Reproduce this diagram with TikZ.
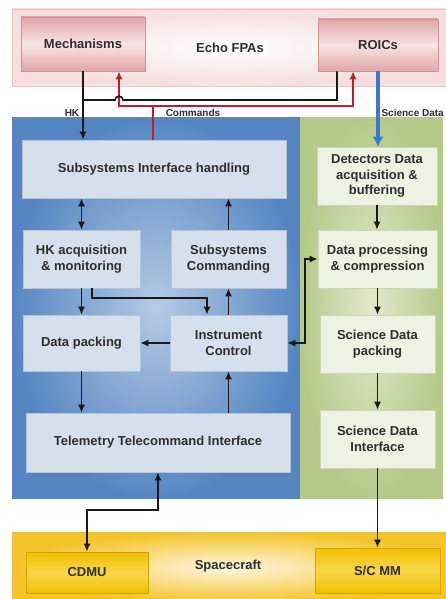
\documentclass[tikz,border=0pt]{standalone}
\usepackage{fontspec}
\setmainfont{Liberation Sans}
\usetikzlibrary{arrows.meta}
\definecolor{txtc}{HTML}{2E2E2E}
\definecolor{pinkdark}{HTML}{E2A6A8}
\definecolor{pinklight}{HTML}{F8E4E4}
\definecolor{pinkline}{HTML}{CC9498}
\definecolor{bandpink}{HTML}{F6DEDE}
\definecolor{bandline}{HTML}{E6C4C4}
\definecolor{blueout}{HTML}{5686C2}
\definecolor{bluein}{HTML}{B6CAE4}
\definecolor{bluebox}{HTML}{D6E0ED}
\definecolor{blueline}{HTML}{B4C3D8}
\definecolor{greenout}{HTML}{B4C98A}
\definecolor{greenin}{HTML}{E2EACC}
\definecolor{greenbox}{HTML}{EEF2E2}
\definecolor{greenline}{HTML}{CDD6B8}
\definecolor{yelout}{HTML}{F5C42A}
\definecolor{yelin}{HTML}{FDF6E0}
\definecolor{goldbox}{HTML}{F1C000}
\definecolor{goldlight}{HTML}{F8D64A}
\definecolor{goldline}{HTML}{D4A400}
\definecolor{cmdred}{HTML}{C41A2C}
\definecolor{sciblue}{HTML}{3B7ACB}
\tikzset{
  txt/.style={font=\bfseries\fontsize{13}{15.5}\selectfont, text=txtc, align=center},
  lbl/.style={font=\bfseries\fontsize{10}{12}\selectfont, text=txtc},
  bx/.style={rectangle, inner sep=0pt, line width=0.6pt, txt},
  pinkbox/.style={bx, draw=pinkline, top color=pinkdark, bottom color=pinkdark, middle color=pinklight},
  bluebx/.style={bx, draw=blueline, fill=bluebox},
  greenbx/.style={bx, draw=greenline, fill=greenbox},
  goldbx/.style={bx, draw=goldline, top color=goldbox, bottom color=goldbox, middle color=goldlight},
  arr/.style={-{Latex[length=8pt,width=7pt]}, line width=1.6pt, draw=black!90},
  arrboth/.style={{Latex[length=8pt,width=7pt]}-{Latex[length=8pt,width=7pt]}, line width=1.6pt, draw=black!90},
  plain/.style={line width=1.6pt, draw=black!90},
  redarr/.style={-{Latex[length=8pt,width=7pt]}, line width=1.6pt, draw=cmdred},
  bluearr/.style={-{Latex[length=10pt,width=11pt]}, line width=4pt, draw=sciblue},
}
\begin{document}
\begin{tikzpicture}[x=1pt,y=-1pt]
\useasboundingbox (0,0) rectangle (446,599);
\fill[white] (0,0) rectangle (446,599);

% bands and panels
\shade[inner color=white, outer color=bandpink, draw=bandline, line width=0.6pt] (12,9) rectangle (450,86);
\shade[inner color=bluein, outer color=blueout] (12,118) rectangle (300,498);
\shade[inner color=greenin, outer color=greenout] (300,118) rectangle (443,498);
\shade[inner color=yelin, outer color=yelout, draw=goldline!70, line width=0.6pt] (12,532) rectangle (450,603);

% top
\node[pinkbox, minimum width=124pt, minimum height=54pt] (mech) at (83,44) {Mechanisms};
\node[pinkbox, minimum width=120pt, minimum height=52pt] (roic) at (378,45) {ROICs};
\node[txt] (echo) at (230,48) {Echo FPAs};

% left panel
\node[bluebx, minimum width=264pt, minimum height=58pt] (sih) at (154,169) {Subsystems Interface handling};
\node[bluebx, minimum width=117pt, minimum height=58pt] (hka) at (81.5,259) {HK acquisition\\\& monitoring};
\node[bluebx, minimum width=115pt, minimum height=58pt] (ssc) at (228.5,259) {Subsystems\\Commanding};
\node[bluebx, minimum width=117pt, minimum height=56pt] (dpk) at (81.5,343) {Data packing};
\node[bluebx, minimum width=117pt, minimum height=56pt] (ic) at (228.5,343) {Instrument\\Control};
\node[bluebx, minimum width=264pt, minimum height=59pt] (tti) at (158,442.5) {Telemetry Telecommand Interface};

% right panel
\node[greenbx, minimum width=120pt, minimum height=58pt] (dda) at (377,176) {Detectors Data\\acquisition \&\\buffering};
\node[greenbx, minimum width=119pt, minimum height=58pt] (dpc) at (377.5,259) {Data processing\\\& compression};
\node[greenbx, minimum width=115pt, minimum height=58pt] (sdp) at (377.5,344) {Science Data\\packing};
\node[greenbx, minimum width=115pt, minimum height=58pt] (sdi) at (377.5,439) {Science Data\\Interface};

% spacecraft
\node[goldbx, minimum width=122pt, minimum height=41pt] (cdmu) at (87,572.5) {CDMU};
\node[goldbx, minimum width=125pt, minimum height=45pt] (scmm) at (377.5,570.5) {S/C MM};
\node[txt] (sc) at (228,566) {Spacecraft};

% labels
\node[lbl] (hkl) at (72,113) {HK};
\node[lbl] (cmdl) at (193,113) {Commands};
\node[lbl, anchor=east, inner sep=1pt] (scil) at (445,113) {Science Data};

% coordinates
\coordinate (cmd) at (153,106);
\coordinate (hkj) at (83,100);
\coordinate (hop) at (119,100);
\coordinate (hkr) at (337,100);
\coordinate (hkb) at (92,298);
\coordinate (icin) at (207,298);
\coordinate (bus) at (305,259);
\coordinate (tc) at (87,510);

% commands (red)
\draw[line width=1.6pt, draw=cmdred] (sih.north -| cmd) -- (cmd);
\draw[redarr] (cmd) -| ([xshift=36pt]mech.south);
\draw[redarr] (cmd) -| ([xshift=-25pt]roic.south);

% HK (black)
\draw[arr] (mech.south) -- (sih.north -| mech.south);
\draw[plain] (hkj) -- ([xshift=-4pt]hop) .. controls ([xshift=-4pt,yshift=5pt]hop) and ([xshift=4pt,yshift=5pt]hop) .. ([xshift=4pt]hop) -- (hkr) -- (roic.south -| hkr);

% science data
\draw[bluearr] (roic.south) -- (roic.south |- dda.north);

% left panel connectors
\draw[arrboth] (sih.south -| hka.north) -- (hka.north);
\draw[arr] (ssc.north) -- (sih.south -| ssc.north);
\draw[arr] (hka.south) -- (dpk.north);
\draw[arr] (hka.south -| hkb) -- (hkb) -- (icin) -- (ic.north -| icin);
\draw[arr] (ic.north) -- (ssc.south);
\draw[arr] (ic.west) -- (dpk.east);
\draw[arr] (dpk.south) -- (tti.north -| dpk.south);
\draw[arr] (tti.north -| ic.south) -- (ic.south);
\draw[arrboth] (ic.east) -| (bus) -- (dpc.west);

% right panel connectors
\draw[arr] (dda.south) -- (dpc.north -| dda.south);
\draw[arr] (dpc.south) -- (sdp.north);
\draw[arr] (sdp.south) -- (sdi.north);
\draw[arr] (sdi.south) -- (scmm.north);
\draw[arrboth] (tti.south) |- (tc) -- (cdmu.north);
\end{tikzpicture}
\end{document}
